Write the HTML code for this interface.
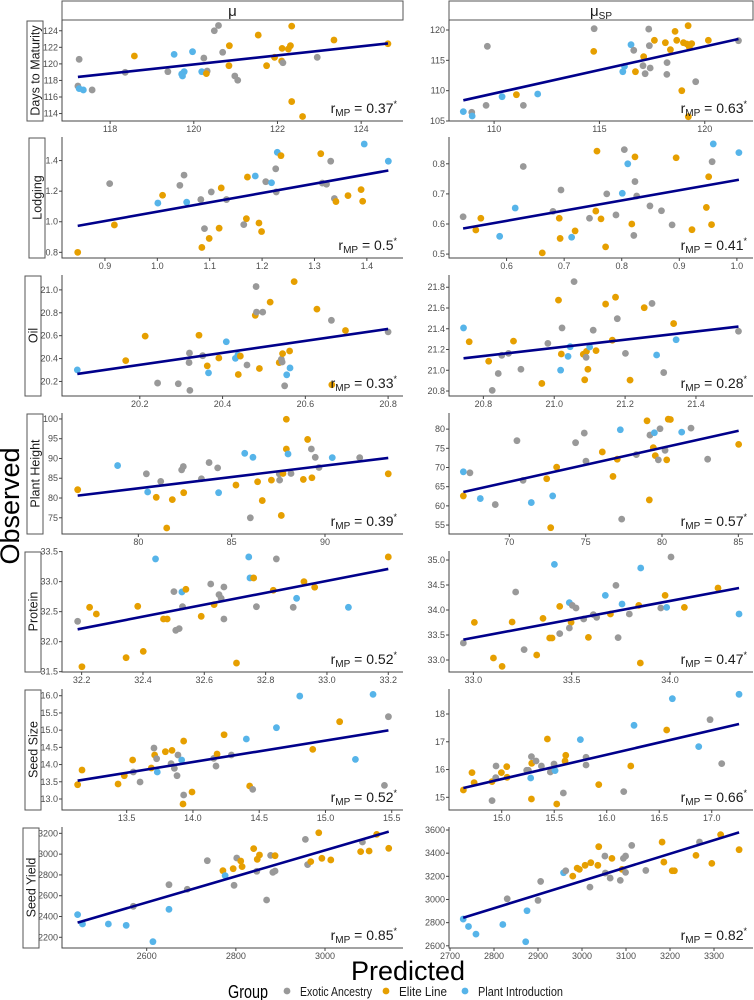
<!DOCTYPE html>
<html><head><meta charset="utf-8"><title>Observed vs Predicted</title>
<style>
html,body{margin:0;padding:0;background:#fff;}
svg{display:block;font-family:"Liberation Sans",Arial,sans-serif;}
</style></head>
<body>
<svg id="chart" width="754" height="1000" viewBox="0 0 754 1000" xmlns="http://www.w3.org/2000/svg"></svg>
<script>
// ---------- data ----------
const traitNames = ["Days to Maturity","Lodging","Oil","Plant Height","Protein","Seed Size","Seed Yield"];
const rLeft = ["0.37","0.5","0.33","0.39","0.52","0.52","0.85"];
const rRight = ["0.63","0.41","0.28","0.57","0.47","0.66","0.82"];

const dmMuX=[117.26,118.58,119.53,119.97,120.49,120.59,120.24,120.69,120.85,121.54,122.34,122.11,122.26,122.31,121.93,122.1,122.13,121.74,122.95,123.35,124.64,118.36,119.38,119.77,119.71,119.73,120.19,120.32,120.30,120.84,120.98,121.05,117.23,117.26,117.36,117.57,122.34,122.6];
const dmMuY=[120.55,120.95,121.15,121.47,124.0,124.64,120.7,121.4,122.2,123.48,124.56,121.87,121.79,122.2,120.79,120.35,120.14,119.78,120.79,122.88,122.43,118.98,119.06,119.06,118.78,118.54,119.06,119.14,118.82,119.78,118.54,118.02,117.33,117.01,116.85,116.85,115.45,113.64];
const dmMuG="gobbggggoooooooogogooggbbbbgooggg bbgooo".replace(/ /g,"");
const dmMuFit=[118.42,122.47];

const dmSpX=[108.54,108.94,108.96,109.62,109.68,110.38,111.06,111.39,112.07,114.75,114.73,116.5,116.63,116.19,116.11,116.71,117.1,117.07,117.17,117.41,117.34,117.37,117.61,118.13,118.37,118.21,118.2,118.59,118.67,119.21,118.99,119.15,119.27,119.38,118.91,119.57,120.17,121.6,119.22];
const dmSpY=[106.54,106.43,105.82,107.58,117.31,109.01,109.34,107.58,109.45,120.22,116.48,117.58,116.65,114.01,113.13,113.13,115.6,114.12,112.8,113.74,120.16,117.42,118.3,117.91,116.76,114.62,112.69,119.78,118.3,120.71,117.91,117.69,117.14,117.75,110,111.48,118.3,118.24,105.71];
const dmSpG="bgbggbogbgobgbbooggg"+"ggoooggooo"+"ooooogogo";
const dmSpFit=[108.41,118.52];

const lodMuX=[.848,.909,.918,1.001,1.01,1.043,1.051,1.056,1.083,1.103,1.122,1.132,1.085,1.09,1.099,1.118,1.172,1.187,1.17,1.165,1.194,1.199,1.207,1.218,1.226,1.227,1.229,1.236,1.312,1.331,1.315,1.323,1.338,1.341,1.364,1.389,1.392,1.395,1.441];
const lodMuY=[.8,1.249,.979,1.122,1.173,1.238,1.305,1.128,1.145,1.195,1.221,1.145,.832,.955,.891,.958,1.292,1.299,1.02,.981,.992,.936,1.262,1.255,1.346,1.195,1.454,1.432,1.445,1.396,1.253,1.245,1.152,1.132,1.171,1.21,1.134,1.508,1.396];
const lodMuG="ogoboggbgg"+"ogogooobog"+"oogbggboog"+"gggoooobb";
const lodMuFit=[.973,1.335];

const lodSpX=[.5245,.5466,.5553,.588,.615,.629,.6805,.6945,.6915,.693,.713,.719,.662,.744,.755,.757,.764,.772,.774,.79,.801,.8045,.8105,.8175,.821,.823,.823,.826,.849,.869,.8875,.8945,.922,.947,.951,.956,.957,.959,1.0035];
const lodSpY=[.624,.58,.619,.559,.653,.791,.642,.713,.619,.552,.556,.577,.504,.619,.643,.842,.617,.524,.70,.63,.702,.847,.80,.60,.562,.741,.823,.693,.66,.644,.597,.82,.581,.655,.757,.598,.807,.866,.837];
const lodSpG="goobbgggoo"+"boogoooogg"+"bgboggoggg"+"gooooogbb";
const lodSpFit=[.585,.747];

const oilMuX=[20.049,20.166,20.213,20.243,20.293,20.32,20.319,20.321,20.343,20.352,20.363,20.366,20.391,20.409,20.431,20.437,20.443,20.438,20.459,20.479,20.481,20.482,20.497,20.489,20.515,20.537,20.542,20.544,20.545,20.562,20.563,20.555,20.55,20.573,20.628,20.663,20.697,20.664,20.8];
const oilMuY=[20.301,20.382,20.596,20.186,20.18,20.448,20.365,20.122,20.604,20.425,20.336,20.275,20.405,20.547,20.402,20.431,20.422,20.261,20.344,20.778,21.029,20.806,20.806,20.313,20.893,20.365,20.394,20.37,20.443,20.466,20.318,20.258,20.162,21.072,20.832,20.734,20.645,20.171,20.633];
const oilMuG="boogggggog"+"obobbboogo"+"gggoooggoo"+"bbgoogoog";
const oilMuFit=[20.266,20.659];

const oilSpX=[20.744,20.76,20.815,20.852,20.871,20.842,20.825,20.885,20.906,20.965,20.982,21.012,21.022,21.02,21.018,21.039,21.045,21.056,21.082,21.091,21.09,21.086,21.095,21.1,21.11,21.118,21.145,21.173,21.178,21.164,21.201,21.214,21.254,21.276,21.289,21.309,21.337,21.344,21.52];
const oilSpY=[21.408,21.275,21.087,21.144,21.163,20.969,20.806,21.281,21.01,20.873,21.259,21.676,21.408,21.157,21.001,21.134,21.227,21.854,21.154,21.182,21.125,20.908,21.01,21.224,21.386,21.189,21.638,21.704,21.497,21.29,21.163,20.905,21.603,21.644,21.147,20.978,21.45,21.294,21.376];
const oilSpG="booggggogo"+"gogobbbgoo"+"goobgooogo"+"googbgobg";
const oilSpFit=[21.115,21.421];

const phMuX=[76.75,78.89,80.43,80.5,81.2,80.96,81.82,81.52,82.43,82.32,82.41,83.79,83.38,84.25,84.3,85.23,85.7,86.14,86.39,86.0,86.64,87.13,87.55,87.57,87.75,87.66,87.93,87.93,88.02,88.18,89.07,89.27,88.84,89.3,89.48,89.68,90.39,91.86,93.39];
const phMuY=[82.11,88.21,86.12,81.52,84.2,80.18,79.6,72.41,81.35,87.12,87.96,88.96,84.87,87.63,81.35,83.28,91.3,90.3,84.11,75.0,79.35,84.53,86.12,84.53,86.2,75.59,99.92,92.39,91.14,86.2,94.82,92.39,84.7,85.12,90.3,87.71,90.22,90.22,86.12];
const phMuG="obgbgoooog"+"ggggbobbog"+"ooggoooobg"+"ogooggbgo";
const phMuFit=[80.6,90.13];

const phSpX=[66.99,67.42,66.99,68.1,69.08,70.5,70.9,71.44,72.45,73.1,72.84,72.71,74.34,74.91,75.02,76.09,76.79,77.07,77.27,77.36,78.32,79.02,79.21,79.5,79.43,79.56,79.17,79.87,79.76,80.2,80.31,80.41,80.55,81.29,81.9,82.99,85.02];
const phSpY=[68.88,68.62,62.59,61.9,60.34,76.98,66.64,60.86,67.07,70.09,62.59,54.31,76.47,78.97,71.64,74.05,67.67,72.16,79.83,56.55,73.36,82.16,78.45,79.05,75.17,73.1,61.55,80.09,71.98,74.48,71.98,82.59,82.5,79.22,80.26,72.16,76.03];
const phSpG="bgobgggboo"+"bogggooobg"+"gogboooggg"+"ooobggo";
const phSpFit=[63.62,79.57];

const prMuX=[32.187,32.201,32.226,32.248,32.345,32.383,32.401,32.441,32.467,32.479,32.501,32.507,32.518,32.527,32.54,32.529,32.59,32.621,32.632,32.648,32.655,32.664,32.664,32.705,32.745,32.749,32.761,32.77,32.835,32.825,32.901,32.89,32.925,32.96,33.07,33.2];
const prMuY=[32.339,31.583,32.572,32.461,31.733,32.589,31.839,33.378,32.378,32.378,32.833,32.189,32.217,32.828,32.872,32.583,32.422,32.961,32.617,32.783,32.722,32.911,32.378,31.644,33.411,33.061,33.061,32.583,33.378,32.856,32.722,32.572,33.0,32.906,32.572,33.411];
const prMuG="gooooooboo"+"gggbogogog"+"gggobboggo"+"bgoobo";
const prMuFit=[32.206,33.211];

const prSpX=[32.949,33.005,33.102,33.146,33.215,33.197,33.258,33.322,33.354,33.388,33.4,33.412,33.439,33.439,33.488,33.503,33.522,33.497,33.488,33.561,33.585,33.61,33.627,33.671,33.697,33.725,33.736,33.756,33.793,33.841,33.851,33.849,33.953,33.983,33.975,34.005,34.073,34.244,34.351];
const prSpY=[33.34,33.753,33.04,32.873,34.36,33.76,33.207,33.1,33.833,33.44,33.44,34.913,33.527,34.073,34.147,34.093,34.04,33.753,33.64,33.82,33.453,33.907,33.853,34.293,33.92,34.493,33.447,34.12,33.92,34.093,34.84,32.94,34.04,34.053,34.293,35.06,34.053,34.44,33.92];
const prSpG="gooogogooo"+"obgobggogg"+"oggboggbgo"+"bogbogoob";
const prSpFit=[33.407,34.44];

const ssMuX=[13.13,13.163,13.435,13.482,13.55,13.545,13.601,13.706,13.711,13.726,13.686,13.731,13.792,13.842,13.835,13.86,13.887,13.88,13.915,13.93,13.93,13.925,13.993,14.157,14.174,14.182,14.29,14.235,14.403,14.428,14.451,14.63,14.806,14.904,15.107,15.226,15.359,15.445,15.475];
const ssMuY=[13.415,13.841,13.435,13.677,13.783,14.132,13.493,14.48,14.277,14.17,13.9,13.783,14.374,14.412,14.025,13.89,14.277,13.677,14.132,14.683,13.115,12.854,13.202,14.18,13.957,14.306,14.277,14.867,14.742,13.377,13.28,15.071,15.99,14.441,15.245,14.151,16.039,13.396,15.39];
const ssMuG="oooogoggog"+"obooggggbo"+"googgogobo"+"gbboobbgg";
const ssMuFit=[13.532,14.993];

const ssSpX=[14.635,14.717,14.737,14.908,14.908,14.946,14.943,14.997,15.051,15.048,15.238,15.254,15.276,15.283,15.286,15.283,15.327,15.378,15.435,15.463,15.498,15.508,15.524,15.587,15.603,15.61,15.749,15.803,15.803,15.924,16.162,16.229,16.26,16.571,16.625,16.876,16.984,17.095,17.26];
const ssSpY=[15.264,15.888,15.528,14.88,15.564,16.128,15.708,15.888,15.72,16.104,15.972,15.972,15.696,14.94,16.224,16.464,16.308,16.128,17.1,15.912,16.2,15.96,14.76,15.156,16.308,16.512,17.076,16.44,16.164,15.456,15.204,16.128,17.592,17.424,18.552,16.824,17.796,16.212,18.708];
const ssSpG="ooogoggooo"+"ggboogggog"+"gbogoobggo"+"gobobbggb";
const ssSpFit=[15.336,17.64];

const syMuX=[2445,2456,2514,2554,2570,2614,2650,2650,2691,2736,2771,2776,2794,2796,2802,2811,2814,2840,2848,2853,2847,2869,2878,2888,2883,2888,2956,2961,2968,2986,2993,3013,3080,3099,3084,3116,3143];
const syMuY=[2418,2328,2328,2315,2498,2158,2469,2706,2662,2937,2841,2793,2860,2700,2963,2934,2880,3053,2950,2992,2835,2559,2988,2985,2825,2838,3142,2899,2928,3206,2960,2944,3024,3030,3117,3190,3056];
const syMuG="bbbbgbbggg"+"oboggooooo"+"gggoggggoo"+"oooogoo";
const syMuFit=[2341,3216];

const sySpX=[2730,2742,2759,2830,2820,2875,2872,2900,2906,2958,2963,2979,2989,2994,3007,3020,3018,3036,3038,3052,3053,3064,3068,3087,3091,3094,3099,3099,3113,3145,3182,3186,3205,3210,3259,3267,3295,3315,3357];
const sySpY=[2831,2767,2701,3006,2784,2903,2635,2992,3156,3231,3248,3202,3271,3260,3295,3318,3107,3295,3456,3375,3228,3185,3355,3165,3260,3355,3375,3234,3467,3251,3496,3323,3248,3248,3381,3496,3312,3560,3430];
const sySpG="bbbgbbbggb"+"gooooogoog"+"ggogoggggg"+"ooooogooo";
const sySpFit=[2842,3580];

// tick label arrays
const xTicksLeft=[["118","120","122","124"],["0.9","1.0","1.1","1.2","1.3","1.4"],["20.2","20.4","20.6","20.8"],["80","85","90"],["32.2","32.4","32.6","32.8","33.0","33.2"],["13.5","14.0","14.5","15.0","15.5"],["2600","2800","3000"]];
const yTicksLeft=[["114","116","118","120","122","124"],["0.8","1.0","1.2","1.4"],["20.2","20.4","20.6","20.8","21.0"],["75","80","85","90","95","100"],["31.5","32.0","32.5","33.0","33.5"],["13.0","13.5","14.0","14.5","15.0","15.5","16.0"],["2200","2400","2600","2800","3000","3200"]];
const xTicksRight=[["110","115","120"],["0.6","0.7","0.8","0.9","1.0"],["20.8","21.0","21.2","21.4"],["70","75","80","85"],["33.0","33.5","34.0"],["15.0","15.5","16.0","16.5","17.0"],["2700","2800","2900","3000","3100","3200","3300"]];
const yTicksRight=[["105","110","115","120"],["0.5","0.6","0.7","0.8"],["20.8","21.0","21.2","21.4","21.6","21.8"],["55","60","65","70","75","80"],["33.0","33.5","34.0","34.5","35.0"],["15","16","17","18"],["2600","2800","3000","3200","3400","3600"]];

const seriesLeft=[[dmMuX,dmMuY,dmMuG,dmMuFit],[lodMuX,lodMuY,lodMuG,lodMuFit],[oilMuX,oilMuY,oilMuG,oilMuFit],[phMuX,phMuY,phMuG,phMuFit],[prMuX,prMuY,prMuG,prMuFit],[ssMuX,ssMuY,ssMuG,ssMuFit],[syMuX,syMuY,syMuG,syMuFit]];
const seriesRight=[[dmSpX,dmSpY,dmSpG,dmSpFit],[lodSpX,lodSpY,lodSpG,lodSpFit],[oilSpX,oilSpY,oilSpG,oilSpFit],[phSpX,phSpY,phSpG,phSpFit],[prSpX,prSpY,prSpG,prSpFit],[ssSpX,ssSpY,ssSpG,ssSpFit],[sySpX,sySpY,sySpG,sySpFit]];

// ---------- layout (scale domains) ----------
const domLeft=[[116.85,125.0,113.1,125.3],[0.818,1.469,0.763,1.554],[20.012,20.836,20.073,21.13],[75.91,94.18,70.9,101.5],[32.136,33.248,31.495,33.51],[13.012,15.585,12.68,16.195],[2410,3175,2097,3261]];
const domRight=[[107.86,122.29,105,121.65],[0.50,1.028,0.487,0.889],[20.703,21.561,20.752,21.918],[66.05,85.96,52.67,84.2],[32.876,34.422,32.76,35.18],[14.498,17.393,14.543,18.9],[2697.7,3388.6,2581,3626]];
const rowTop=[20,137,275,413,551,689,827];
const rowBot=[121,258,396,534,672,810,948];
const stripRight=[43,45,41,43,41,41,39];
const colLeft=[62,449], colRight=[403,753];
const colors={g:"#999999",o:"#E69F00",b:"#56B4E9"};
const groupNames={g:"exotic",o:"elite",b:"plant-intro"};

const NS="http://www.w3.org/2000/svg";
const svg=document.getElementById("chart");
function mk(tag,attrs,parent){const e=document.createElementNS(NS,tag);for(const k in attrs)e.setAttribute(k,attrs[k]);(parent||svg).appendChild(e);return e;}

// column strips
[["μ",""],["μ","SP"]].forEach((s,c)=>{
  const g=mk("g",{});
  
  
  mk("rect",{x:colLeft[c],y:1,width:colRight[c]-colLeft[c],height:19,fill:"#fff",stroke:"#555","stroke-width":1},g);
  const t=mk("text",{x:(colLeft[c]+colRight[c])/2,y:16,"text-anchor":"middle","font-size":15,fill:"#1a1a1a"},g);
  t.textContent=s[0];
  if(s[1]){const ts=mk("tspan",{"font-size":10,dy:3},t);ts.textContent=s[1];}
});

function sx(d,c,v){return colLeft[c]+(v-d[0])/(d[1]-d[0])*(colRight[c]-colLeft[c]);}
function sy(d,r,v){return rowBot[r]-(v-d[2])/(d[3]-d[2])*(rowBot[r]-rowTop[r]);}

for(let r=0;r<7;r++){
  const sg=mk("g",{});
  
  
  mk("rect",{x:stripRight[r]-16,y:rowTop[r]+1,width:16,height:rowBot[r]-rowTop[r]-1,fill:"#fff",stroke:"#555","stroke-width":1},sg);
  const cy=(rowTop[r]+rowBot[r])/2, cx=stripRight[r]-3.5;
  const lt=mk("text",{x:cx,y:cy,"text-anchor":"middle","font-size":12.5,fill:"#1a1a1a",transform:`rotate(-90 ${cx} ${cy})`},sg);
  lt.textContent=traitNames[r];

  for(let c=0;c<2;c++){
    const d=c?domRight[r]:domLeft[r];
    const ser=c?seriesRight[r]:seriesLeft[r];
    const xt=c?xTicksRight[r]:xTicksLeft[r];
    const yt=c?yTicksRight[r]:yTicksLeft[r];
    const rv=c?rRight[r]:rLeft[r];
    const pg=mk("g",{});
    
    
    const L=colLeft[c],R=colRight[c],T=rowTop[r],B=rowBot[r];
    const ax=mk("path",{d:`M${L},${T} V${B} H${R}`,fill:"none",stroke:"#444","stroke-width":1},pg);
    
    
    xt.forEach(s=>{
      const X=sx(d,c,parseFloat(s));
      mk("line",{x1:X,x2:X,y1:B,y2:B+3,stroke:"#444","stroke-width":1},pg);
      const t=mk("text",{x:X,y:B+11,"text-anchor":"middle","font-size":9,fill:"#4d4d4d"},pg);
      t.textContent=s;
      
      
    });
    yt.forEach(s=>{
      const Y=sy(d,r,parseFloat(s));
      mk("line",{x1:L-3,x2:L,y1:Y,y2:Y,stroke:"#444","stroke-width":1},pg);
      const t=mk("text",{x:L-4,y:Y+3,"text-anchor":"end","font-size":9,fill:"#4d4d4d"},pg);
      t.textContent=s;
      
      
    });
    const xs=ser[0],ys=ser[1],gs=ser[2],fit=ser[3];
    for(let i=0;i<xs.length;i++){
      const k=gs[i]||"g";
      const p=mk("circle",{cx:sx(d,c,xs[i]),cy:sy(d,r,ys[i]),r:3.4,fill:colors[k]},pg);
      
      
    }
    const x0=Math.min(...xs),x1=Math.max(...xs);
    const fl=mk("line",{x1:sx(d,c,x0),y1:sy(d,r,fit[0]),x2:sx(d,c,x1),y2:sy(d,r,fit[1]),stroke:"#00008B","stroke-width":2.6},pg);
    
    
    const an=mk("text",{x:R-6,y:B-8,"text-anchor":"end","font-size":14,fill:"#1a1a1a"},pg);
    
    
    const a1=mk("tspan",{},an);a1.textContent="r";
    const a2=mk("tspan",{"font-size":10,dy:3},an);a2.textContent="MP";
    const a3=mk("tspan",{dy:-3},an);a3.textContent=" = "+rv;
    const a4=mk("tspan",{"font-size":9,dy:-6},an);a4.textContent="*";
  }
}

// axis titles
const yt=mk("text",{x:19,y:506,"text-anchor":"middle","font-size":27,fill:"#000",transform:"rotate(-90 19 506)"});
yt.textContent="Observed";


const xtt=mk("text",{x:408,y:980,"text-anchor":"middle","font-size":27,fill:"#000"});
xtt.textContent="Predicted";



// legend
const lg=mk("g",{});


const lt0=mk("text",{x:228,y:998,"font-size":18,fill:"#000",textLength:40,lengthAdjust:"spacingAndGlyphs"},lg);lt0.textContent="Group";
const legendItems=[["g","Exotic Ancestry",287,72],["o","Elite Line",386,48],["b","Plant Introduction",465,85]];
legendItems.forEach(it=>{
  const eg=mk("g",{},lg);
  
  
  mk("circle",{cx:it[2],cy:991,r:3.4,fill:colors[it[0]]},eg);
  const t=mk("text",{x:it[2]+13,y:996,"font-size":13,fill:"#1a1a1a",textLength:it[3],lengthAdjust:"spacingAndGlyphs"},eg);
  t.textContent=it[1];
});
</script>
</body></html>
